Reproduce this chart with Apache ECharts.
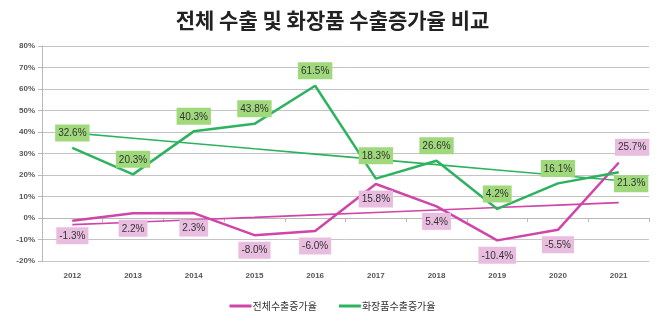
<!DOCTYPE html>
<html>
<head>
<meta charset="utf-8">
<script src="https://cdn.jsdelivr.net/npm/echarts@6/dist/echarts.min.js"></script>
<style>
  html, body { margin: 0; padding: 0; background: #fff; }
  #chart { width: 665px; height: 322px; }
</style>
</head>
<body>
<div id="chart"></div>
<script>
// Export growth rates (%), 2012–2021
const years = ['2012', '2013', '2014', '2015', '2016', '2017', '2018', '2019', '2020', '2021'];
const totalExport = [-1.3, 2.2, 2.3, -8.0, -6.0, 15.8, 5.4, -10.4, -5.5, 25.7];
const cosmeticsExport = [32.6, 20.3, 40.3, 43.8, 61.5, 18.3, 26.6, 4.2, 16.1, 21.3];
const yTicks = [-20, -10, 0, 10, 20, 30, 40, 50, 60, 70, 80];

const PINK = '#cf45a8';
const GREEN = '#2db35f';
const PINK_BG = '#e9bde0';
const GREEN_BG = '#9fd97c';

// Least-squares linear trend over the category index
function linearTrend(values) {
  const n = values.length;
  let sx = 0, sy = 0, sxy = 0, sxx = 0;
  values.forEach((v, i) => { sx += i; sy += v; sxy += i * v; sxx += i * i; });
  const slope = (n * sxy - sx * sy) / (n * sxx - sx * sx);
  const icpt = (sy - slope * sx) / n;
  return values.map((_, i) => +(icpt + slope * i).toFixed(2));
}

function labelBox(bg, position) {
  return {
    show: true,
    position: position,
    distance: 6,
    formatter: p => Number(p.value).toFixed(1) + '%',
    backgroundColor: bg,
    color: '#333',
    fontSize: 10,
    fontFamily: 'Liberation Sans, Arial, sans-serif',
    padding: [4, 3, 3, 3]
  };
}

// Last year's labels sit to the right of the point
const last = years.length - 1;
const greenData = cosmeticsExport.map((v, i) => {
  if (i === last) return { value: v, label: { position: [13, 12], align: 'center', verticalAlign: 'middle' } };
  if (i === 5) return { value: v, label: { distance: 14 } };
  return v;
});
const pinkData = totalExport.map((v, i) => {
  if (i === last) return { value: v, label: { position: [14, -15], align: 'center', verticalAlign: 'middle' } };
  return v;
});

const chart = echarts.init(document.getElementById('chart'), null, { renderer: 'canvas' });
chart.setOption({
  animation: false,
  backgroundColor: '#fff',
  title: {
    text: '전체 수출 및 화장품 수출증가율 비교',
    left: 'center',
    top: 5,
    textStyle: {
      fontFamily: 'Noto Sans CJK KR',
      fontSize: 21,
      fontWeight: 'bold',
      color: '#222'
    }
  },
  legend: {
    bottom: 6,
    left: 'center',
    itemWidth: 22,
    itemHeight: 3,
    itemGap: 22,
    icon: 'rect',
    textStyle: { fontFamily: 'Noto Sans CJK KR', fontSize: 10, color: '#333', padding: [0, 0, 0, -4] },
    data: ['전체수출증가율', '화장품수출증가율']
  },
  grid: { left: 42, right: 16, top: 46, bottom: 61 },
  xAxis: [
    {
      type: 'category',
      data: years,
      axisLine: { onZero: true, lineStyle: { color: '#b8b8b8', width: 1 } },
      axisTick: { show: true, length: 4, lineStyle: { color: '#b8b8b8' } },
      axisLabel: { show: false }
    },
    {
      type: 'category',
      data: years,
      position: 'bottom',
      axisLine: { show: false, onZero: false },
      axisTick: { show: false },
      axisLabel: {
        margin: 11,
        fontSize: 8,
        fontWeight: 'bold',
        color: '#555',
        fontFamily: 'Liberation Sans, Arial, sans-serif'
      }
    }
  ],
  yAxis: {
    type: 'value',
    min: yTicks[0],
    max: yTicks[yTicks.length - 1],
    interval: 10,
    axisLine: { show: true, lineStyle: { color: '#b8b8b8' } },
    axisTick: { show: true, length: 4, lineStyle: { color: '#b8b8b8' } },
    splitLine: { lineStyle: { color: '#c4c4c4', width: 1 } },
    axisLabel: {
      formatter: v => v + '%',
      fontSize: 8,
      fontWeight: 'bold',
      color: '#555',
      margin: 7,
      fontFamily: 'Liberation Sans, Arial, sans-serif'
    }
  },
  series: [
    {
      name: '전체수출증가율',
      type: 'line',
      data: pinkData,
      color: PINK,
      symbol: 'circle',
      symbolSize: 1,
      showSymbol: true,
      itemStyle: { color: PINK },
      lineStyle: { width: 2.5, color: PINK },
      label: labelBox(PINK_BG, 'bottom'),
      labelLayout: { hideOverlap: false },
      z: 3
    },
    {
      name: '화장품수출증가율',
      type: 'line',
      data: greenData,
      color: GREEN,
      symbol: 'circle',
      symbolSize: 1,
      showSymbol: true,
      itemStyle: { color: GREEN },
      lineStyle: { width: 2.5, color: GREEN },
      label: labelBox(GREEN_BG, 'top'),
      labelLayout: { hideOverlap: false },
      z: 3
    },
    {
      name: 'totalTrend',
      type: 'line',
      data: linearTrend(totalExport),
      symbol: 'none',
      lineStyle: { width: 1.6, color: PINK },
      silent: true,
      z: 2
    },
    {
      name: 'cosmeticsTrend',
      type: 'line',
      data: linearTrend(cosmeticsExport),
      symbol: 'none',
      lineStyle: { width: 1.6, color: GREEN },
      silent: true,
      z: 2
    }
  ]
});
</script>
</body>
</html>
